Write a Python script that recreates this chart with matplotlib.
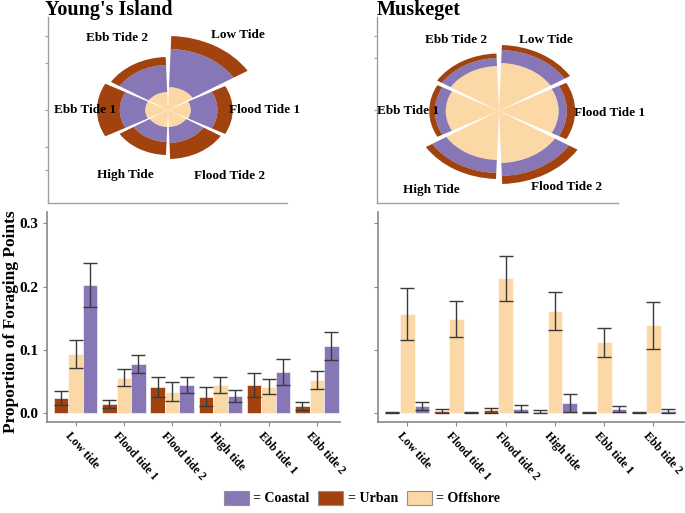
import numpy as np
import matplotlib
matplotlib.use('Agg')
import matplotlib.pyplot as plt
import matplotlib.transforms as mtransforms
from matplotlib.patches import Patch

plt.rcParams['font.family'] = ['Liberation Serif', 'DejaVu Serif']
plt.rcParams['font.weight'] = 'bold'

# colours
c_coastal = '#8877B6'
c_urban = '#A1420F'
c_offshore = '#FCD8A6'

# rose (top) - stacked radial lengths, sectors in order
rose_labels = ['Low Tide', 'Flood Tide 1', 'Flood Tide 2', 'High Tide', 'Ebb Tide 1', 'Ebb Tide 2']
rose_angles = [60, 0, -60, -120, 180, 120]

yi_rose_offshore = [23, 18, 17, 17, 18, 18]
yi_rose_coastal = [38, 21, 16, 15, 20, 27]
yi_rose_urban = [13, 12, 16, 13, 18, 8]

mu_rose_offshore = [48, 47, 52, 49, 42, 45]
mu_rose_coastal = [13, 6.5, 13, 13, 8.5, 8]
mu_rose_urban = [5, 6.5, 8, 6, 4.5, 4.5]

# bars (bottom) - proportion of foraging points, mean and error half width
tides = ['Low tide', 'Flood tide 1', 'Flood tide 2', 'High tide', 'Ebb tide 1', 'Ebb tide 2']

yi_urban = [0.0237, 0.0142, 0.0416, 0.0263, 0.0447, 0.0116]
yi_urban_err = [0.0112, 0.0066, 0.0152, 0.0150, 0.0192, 0.0058]
yi_offshore = [0.0937, 0.0563, 0.0342, 0.0442, 0.0420, 0.0526]
yi_offshore_err = [0.0224, 0.0135, 0.0153, 0.0124, 0.0121, 0.0148]
yi_coastal = [0.2026, 0.0779, 0.0447, 0.0274, 0.0658, 0.1063]
yi_coastal_err = [0.0347, 0.0137, 0.0126, 0.0095, 0.0205, 0.0224]

mu_urban = [0.0016, 0.0037, 0.0047, 0.0026, 0.0010, 0.0010]
mu_urban_err = [0.0010, 0.0030, 0.0040, 0.0021, 0.0008, 0.0008]
mu_offshore = [0.1567, 0.1493, 0.2132, 0.1620, 0.1119, 0.1388]
mu_offshore_err = [0.0412, 0.0285, 0.0356, 0.0298, 0.0222, 0.0375]
mu_coastal = [0.0116, 0.0016, 0.0074, 0.0164, 0.0069, 0.0037]
mu_coastal_err = [0.0068, 0.0010, 0.0053, 0.0137, 0.0042, 0.0030]

W, H = 685, 513
fig = plt.figure(figsize=(W / 100, H / 100), dpi=100)


def box(x0, y0, x1, y1):
    # pixel box (top-left origin) -> figure fraction
    return [x0 / W, 1 - y1 / H, (x1 - x0) / W, (y1 - y0) / H]


def rose_frame(rect, ticks):
    ax = fig.add_axes(rect)
    ax.set_xlim(0, 1); ax.set_ylim(0, 1)
    for s in ['top', 'right']:
        ax.spines[s].set_visible(False)
    for s in ['left', 'bottom']:
        ax.spines[s].set_color('#A0A0A0')
        ax.spines[s].set_linewidth(1.0)
    ax.set_xticks([])
    ax.set_yticks(ticks)
    ax.set_yticklabels([])
    ax.tick_params(axis='y', length=2.5, color='#A0A0A0')
    ax.patch.set_alpha(0)
    return ax


def rose(rect, off, coast, urb, label_pos):
    ax = fig.add_axes(rect, projection='polar')
    ax.set_aspect('auto')
    th = np.deg2rad(rose_angles)
    w = np.deg2rad(56)
    off = np.array(off); coast = np.array(coast); urb = np.array(urb)
    ax.bar(th, off, width=w, bottom=0, color=c_offshore, linewidth=0)
    ax.bar(th, coast, width=w, bottom=off, color=c_coastal, linewidth=0)
    ax.bar(th, urb, width=w, bottom=off + coast, color=c_urban, linewidth=0)
    ax.set_ylim(0, 80)
    ax.axis('off')
    for lab, (a, r) in zip(rose_labels, label_pos):
        ax.text(np.deg2rad(a), r, lab, ha='center', va='center', fontsize=9.5,
                fontweight='bold', clip_on=False)
    return ax


def bars(rect, urb, urb_e, off, off_e, coast, coast_e, xmax, show_labels):
    ax = fig.add_axes(rect)
    x = np.arange(1, len(tides) + 1)
    bw = 0.3
    ek = dict(ecolor='#3A3A3A', elinewidth=1.0, capsize=5, capthick=1.0)
    ax.bar(x - bw, urb, bw, color=c_urban, edgecolor='white', linewidth=0.4,
           yerr=urb_e, error_kw=ek)
    ax.bar(x, off, bw, color=c_offshore, edgecolor='white', linewidth=0.4,
           yerr=off_e, error_kw=ek)
    ax.bar(x + bw, coast, bw, color=c_coastal, edgecolor='white', linewidth=0.4,
           yerr=coast_e, error_kw=ek)
    ax.set_xlim(0.4, xmax)
    ax.set_ylim(-0.0142, 0.318)
    for s in ['top', 'right']:
        ax.spines[s].set_visible(False)
    for s in ['left', 'bottom']:
        ax.spines[s].set_color('#888888')
        ax.spines[s].set_linewidth(1.2)
    ax.set_yticks([0.0, 0.1, 0.2, 0.3])
    if show_labels:
        ax.set_yticklabels(['0.0', '0.1', '0.2', '0.3'], fontsize=11, fontweight='bold')
    else:
        ax.set_yticklabels([])
    ax.set_xticks(x)
    ax.set_xticklabels([])
    # rotated category labels, nudged a little left of the tick like the original
    shift = mtransforms.ScaledTranslation(-4 / 100, -8 / 100, fig.dpi_scale_trans)
    for xi, lab in zip(x, tides):
        ax.text(xi, 0, lab, transform=ax.get_xaxis_transform() + shift, rotation=-48,
                ha='left', va='top', rotation_mode='anchor', fontsize=8.5,
                fontweight='bold', clip_on=False)
    ax.tick_params(axis='both', length=3, color='#888888', pad=3)
    ax.patch.set_alpha(0)
    return ax


#%% top roses
rose_frame(box(48, 17, 287, 203), [0.18, 0.3, 0.5, 0.75, 0.9])
rose(box(66.5, 30, 269.5, 190), yi_rose_offshore, yi_rose_coastal, yi_rose_urban,
     [(53.7, 93), (0, 76), (-54, 82), (-117.6, 73), (180, 65), (119, 82)])

rose_frame(box(377, 17, 618, 203), [0.5, 0.78, 0.9])
rose(box(397.5, 31, 600.5, 191), mu_rose_offshore, mu_rose_coastal, mu_rose_urban,
     [(62.5, 80), (-1, 87), (-55, 93), (-124, 95), (180, 72), (115.6, 79)])

fig.text(45 / W, 1 - 15 / H, "Young's Island", fontsize=14.5, fontweight='bold', va='baseline')
fig.text(377 / W, 1 - 15 / H, "Muskeget", fontsize=14.5, fontweight='bold', va='baseline')

#%% bottom bars
bars(box(46.7, 212, 340, 422.3), yi_urban, yi_urban_err, yi_offshore, yi_offshore_err,
     yi_coastal, yi_coastal_err, 6.48, True)
bars(box(377.7, 212, 684, 422.3), mu_urban, mu_urban_err, mu_offshore, mu_offshore_err,
     mu_coastal, mu_coastal_err, 6.62, False)

fig.text(11 / W, 1 - 322 / H, 'Proportion of Foraging Points', rotation=90, ha='center',
         va='center', fontsize=12.5, fontweight='bold')

#%% legend
handles = [Patch(facecolor=c_coastal, edgecolor='#909090', linewidth=0.8),
           Patch(facecolor=c_urban, edgecolor='#909090', linewidth=0.8),
           Patch(facecolor=c_offshore, edgecolor='#909090', linewidth=0.8)]
fig.legend(handles, ['= Coastal', '= Urban', '= Offshore'], loc='center',
           bbox_to_anchor=(362 / W, 1 - 498 / H), ncol=3, frameon=False,
           prop={'weight': 'bold', 'size': 10}, handlelength=1.8, handleheight=1.2,
           handletextpad=0.35, columnspacing=0.6)

fig.savefig('out.png', dpi=100)
